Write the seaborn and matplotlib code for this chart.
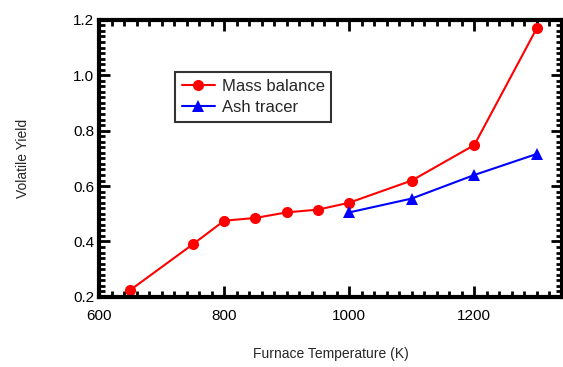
import matplotlib
matplotlib.use("Agg")
import matplotlib.pyplot as plt
import seaborn as sns
import pandas as pd
from matplotlib.ticker import MultipleLocator

mass_temp = [650, 750, 800, 850, 900, 950, 1000, 1100, 1200, 1300]
mass_yield = [0.225, 0.39, 0.475, 0.485, 0.505, 0.515, 0.54, 0.62, 0.748, 1.17]
ash_temp = [1000, 1100, 1200, 1300]
ash_yield = [0.505, 0.555, 0.64, 0.716]

sns.set_style("ticks")
plt.rcParams['font.family'] = ['Liberation Sans', 'DejaVu Sans']

fig = plt.figure(figsize=(5.63, 3.67), dpi=100)
ax = fig.add_axes([0.176, 0.191, 0.822, 0.755])

df_m = pd.DataFrame({"T": mass_temp, "Y": mass_yield})
df_a = pd.DataFrame({"T": ash_temp, "Y": ash_yield})
sns.lineplot(data=df_m, x="T", y="Y", ax=ax, color="#ff0000", marker="o",
             markersize=8, markeredgewidth=0, linewidth=1.5, label="Mass balance")
sns.lineplot(data=df_a, x="T", y="Y", ax=ax, color="#0000ff", marker="^",
             markersize=8, markeredgewidth=0, linewidth=1.5, label="Ash tracer")

ax.set_xlim(600, 1340)
ax.set_ylim(0.2, 1.2)
ax.xaxis.set_major_locator(MultipleLocator(200))
ax.xaxis.set_minor_locator(MultipleLocator(20))
ax.yaxis.set_major_locator(MultipleLocator(0.2))
ax.yaxis.set_minor_locator(MultipleLocator(0.02))
ax.yaxis.set_major_formatter(matplotlib.ticker.FormatStrFormatter('%.1f'))
ax.tick_params(which='both', direction='in', top=True, right=True, width=2, labelsize=11, colors='black')
ax.tick_params(which='major', length=8)
ax.tick_params(which='minor', length=4.5)
ax.tick_params(axis='x', pad=9)
for s in ax.spines.values():
    s.set_linewidth(3)
    s.set_color('black')

ax.set_xlabel("Furnace Temperature (K)", fontsize=10, labelpad=17)
ax.set_ylabel("Volatile Yield", fontsize=10, labelpad=31)

leg = ax.legend(loc='upper left', bbox_to_anchor=(0.164, 0.81), frameon=True, fancybox=False,
                fontsize=12, handlelength=2.0, borderpad=0.4, labelspacing=0.35,
                handletextpad=0.4, borderaxespad=0)
leg.get_frame().set_edgecolor('black')
leg.get_frame().set_linewidth(1.5)

fig.savefig("out.png", dpi=100)
